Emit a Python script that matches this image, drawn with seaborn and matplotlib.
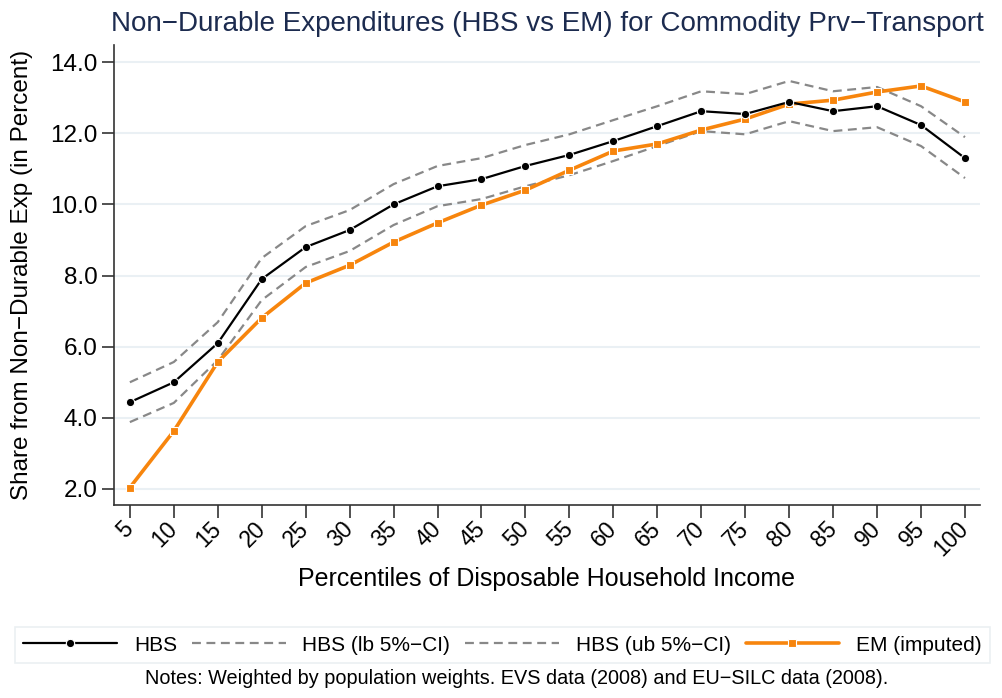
import numpy as np
import pandas as pd
import matplotlib
matplotlib.use("Agg")
import matplotlib.pyplot as plt
import seaborn as sns

# percentiles of disposable household income
pct = [5, 10, 15, 20, 25, 30, 35, 40, 45, 50, 55, 60, 65, 70, 75, 80, 85, 90, 95, 100]

hbs = [4.44, 5.00, 6.10, 7.90, 8.80, 9.28, 10.00, 10.51, 10.71, 11.08,
       11.39, 11.78, 12.20, 12.62, 12.54, 12.88, 12.62, 12.76, 12.23, 11.30]
hbs_lb = [3.88, 4.42, 5.62, 7.31, 8.24, 8.69, 9.42, 9.95, 10.15, 10.51,
          10.82, 11.22, 11.64, 12.06, 11.97, 12.34, 12.06, 12.17, 11.64, 10.74]
hbs_ub = [5.00, 5.57, 6.69, 8.49, 9.39, 9.84, 10.57, 11.08, 11.30, 11.67,
          11.97, 12.37, 12.76, 13.18, 13.10, 13.47, 13.18, 13.30, 12.76, 11.89]
em = [2.04, 3.63, 5.57, 6.81, 7.79, 8.29, 8.94, 9.48, 9.98, 10.40,
      10.96, 11.50, 11.70, 12.09, 12.40, 12.82, 12.93, 13.16, 13.33, 12.88]

yticks = [2, 4, 6, 8, 10, 12, 14]

df = pd.DataFrame({"pct": pct, "hbs": hbs, "lb": hbs_lb, "ub": hbs_ub, "em": em})

sns.set_style("white")
plt.rcParams["font.family"] = ["Liberation Sans", "DejaVu Sans"]
plt.rcParams["text.color"] = "black"
plt.rcParams["axes.labelcolor"] = "black"
plt.rcParams["xtick.labelcolor"] = "black"
plt.rcParams["ytick.labelcolor"] = "black"

fig = plt.figure(figsize=(10.03, 6.98), dpi=100)
ax = fig.add_axes([0.1137, 0.2765, 0.8633, 0.659])

for y in yticks:
    ax.axhline(y, color="#eaf0f4", lw=1.5, zorder=0)

sns.lineplot(data=df, x="pct", y="hbs", ax=ax, color="black", lw=1.6,
             marker="o", markersize=6, markeredgecolor="white", markeredgewidth=0.8,
             label="HBS", zorder=4)
sns.lineplot(data=df, x="pct", y="lb", ax=ax, color="#888888", lw=1.6,
             dashes=(4, 2.5), label="HBS (lb 5%\u2212CI)", zorder=2)
sns.lineplot(data=df, x="pct", y="ub", ax=ax, color="#888888", lw=1.6,
             dashes=(4, 2.5), label="HBS (ub 5%\u2212CI)", zorder=2)
sns.lineplot(data=df, x="pct", y="em", ax=ax, color="#f7850d", lw=2.6,
             marker="s", markersize=6, markeredgecolor="white", markeredgewidth=0.8,
             label="EM (imputed)", zorder=3)

ax.set_xlim(3.2, 101.7)
ax.set_ylim(1.55, 14.48)
ax.set_xticks(pct)
ax.set_xticklabels([str(p) for p in pct], rotation=45, fontsize=16.5,
                   ha="right", va="center", rotation_mode="anchor")
ax.set_yticks(yticks)
ax.set_yticklabels([f"{v:.1f}" for v in yticks], fontsize=17.5)
ax.tick_params(axis="both", direction="out", length=9, width=1.2, color="#333333",
               left=True, bottom=True)
ax.tick_params(axis="y", pad=3)
ax.tick_params(axis="x", pad=6)

for s in ["top", "right"]:
    ax.spines[s].set_visible(False)
for s in ["left", "bottom"]:
    ax.spines[s].set_color("#333333")
    ax.spines[s].set_linewidth(1.2)

ax.set_xlabel("Percentiles of Disposable Household Income", fontsize=18, labelpad=4)
ax.set_ylabel("Share from Non\u2212Durable Exp (in Percent)", fontsize=17.5, labelpad=12)
ax.set_title("Non\u2212Durable Expenditures (HBS vs EM) for Commodity Prv\u2212Transport",
             fontsize=20, color="#1c2b4f", pad=10)

ax.get_legend().remove()
handles, labels = ax.get_legend_handles_labels()
leg = fig.legend(handles, labels, loc="lower left", ncol=4, mode="expand",
                 bbox_to_anchor=(0.015, 0.05, 0.972, 0.066), fontsize=15,
                 frameon=True, fancybox=False, handlelength=4.5, borderaxespad=0)
leg.get_frame().set_edgecolor("#e6ecef")
leg.get_frame().set_linewidth(1.2)

fig.text(0.515, 0.02, "Notes: Weighted by population weights. EVS data (2008) and EU\u2212SILC data (2008).",
         ha="center", fontsize=14.3)

fig.savefig("out.png", dpi=100)
